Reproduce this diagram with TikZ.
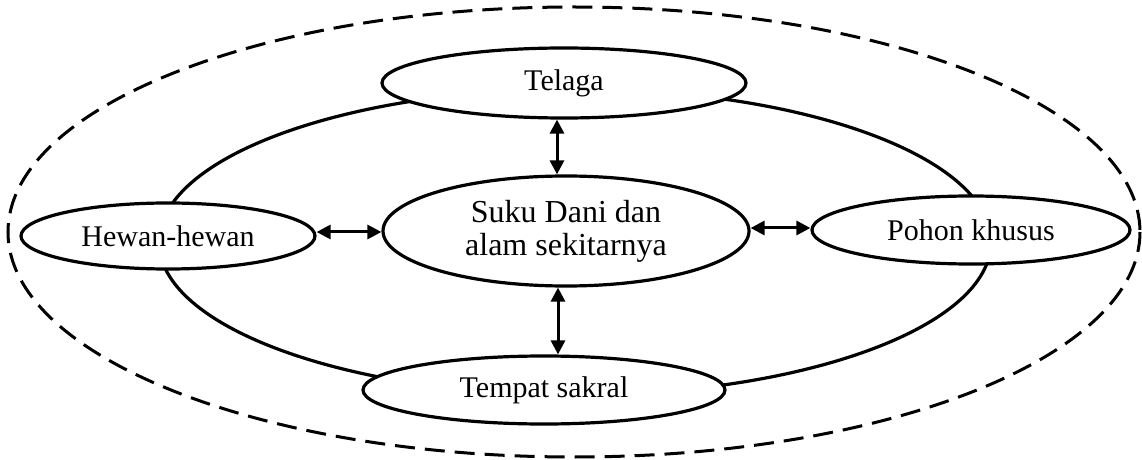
\documentclass[tikz,border=0pt]{standalone}
\usepackage{fontspec}
\setmainfont{Liberation Serif}
\usetikzlibrary{arrows.meta,shapes.geometric}
\begin{document}
\begin{tikzpicture}[x=0.5pt,y=-0.5pt,
  bub/.style={ellipse,draw,fill=white,line width=1.6pt,inner sep=0pt,
    font=\fontsize{15pt}{16.5pt}\selectfont,align=center},
  link/.style={line width=1.5pt,{Triangle[length=7pt,width=7pt]}-{Triangle[length=7pt,width=7pt]}}]
\useasboundingbox (0,0) rectangle (1142,460);
\draw[line width=1.5pt,dash pattern=on 10pt off 5pt] (574,232) ellipse [x radius=566, y radius=225];
\draw[line width=1.6pt] (575,242) ellipse [x radius=416, y radius=153];
\node[bub,minimum width=182pt,minimum height=35pt] (tel) at (564,83) {Telaga};
\node[bub,minimum width=147pt,minimum height=33pt] (hew) at (168,236) {Hewan-hewan};
\node[bub,minimum width=159pt,minimum height=34pt] (poh) at (971,230) {Pohon khusus};
\node[bub,minimum width=181pt,minimum height=34pt] (tem) at (544,390) {Tempat sakral};
\node[bub,minimum width=183pt,minimum height=55pt,font=\fontsize{16pt}{16.5pt}\selectfont] (c) at (566,231) {Suku Dani dan\\alam sekitarnya};
\coordinate (a1) at (557,0);
\coordinate (a2) at (558,0);
\coordinate (h1) at (0,232);
\coordinate (h2) at (0,228);
\draw[link] (a1 |- tel.south) -- (a1 |- c.north);
\draw[link] (a2 |- c.south) -- (a2 |- tem.north);
\draw[link] (h1 -| hew.east) -- (h1 -| c.west);
\draw[link] (h2 -| c.east) -- (h2 -| poh.west);
\end{tikzpicture}
\end{document}
